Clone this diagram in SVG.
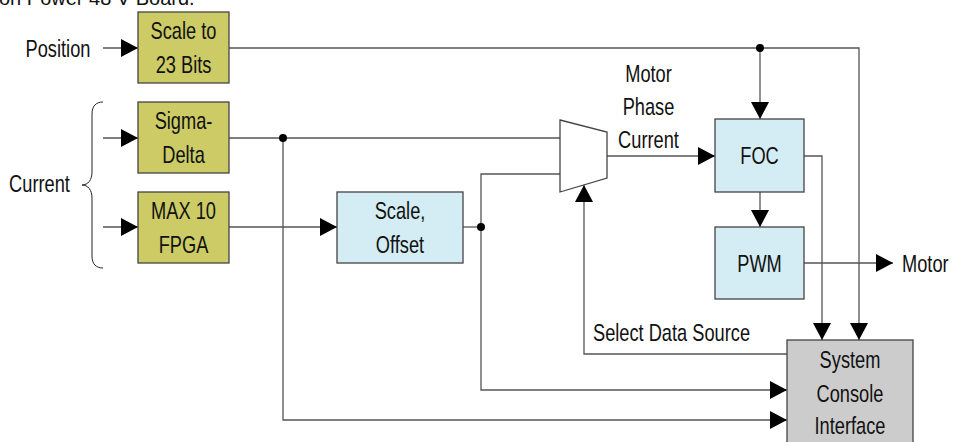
<svg xmlns="http://www.w3.org/2000/svg" width="953" height="442" viewBox="0 0 953 442">
<defs>
<marker id="ah" markerUnits="userSpaceOnUse" markerWidth="18" markerHeight="19" refX="17" refY="9" orient="auto">
<path d="M0,0 L17,9 L0,18 z" fill="#000"/>
</marker>
<style>
.t{font-family:"Liberation Sans",Arial,sans-serif;font-size:24px;fill:#111;}
.m{text-anchor:middle;}
.ol{fill:#cccb66;stroke:#444;stroke-width:1.3;}
.bl{fill:#d4ecf3;stroke:#444;stroke-width:1.3;}
.gr{fill:#cccccc;stroke:#444;stroke-width:1.3;}
.c{fill:none;stroke:#555;stroke-width:1.3;}
.a{marker-end:url(#ah);}
</style>
</defs>
<rect width="953" height="442" fill="#fff"/>
<text x="-1" y="4.7" style="font-family:'Liberation Sans',Arial,sans-serif;font-size:20px;fill:#111">on Power 48 V Board.</text>

<g id="connectors">
<path class="c a" d="M103,48 H138"/>
<path class="c a" d="M103,138 H138"/>
<path class="c a" d="M103,227 H138"/>
<path class="c a" d="M229,48 H859 V340"/>
<path class="c a" d="M760,48 V119"/>
<path class="c" d="M229,138 H560"/>
<path class="c a" d="M283,138 V420 H787"/>
<path class="c a" d="M229,227 H337"/>
<path class="c" d="M463,227 H481"/>
<path class="c a" d="M560,174 H481 V390 H787"/>
<path class="c a" d="M607,156 H715"/>
<path class="c a" d="M787,354 H584 V185"/>
<path class="c a" d="M760,192 V227"/>
<path class="c a" d="M804,156 H822 V340"/>
<path class="c a" d="M804,263 H893"/>
<circle cx="760" cy="48" r="4" fill="#000"/>
<circle cx="283" cy="138" r="4" fill="#000"/>
<circle cx="481" cy="227" r="4" fill="#000"/>
<path d="M103,102 C96,102 92,106 92,114 L92,172 C92,180 88,185 82,185 C88,185 92,190 92,198 L92,256 C92,264 96,268 103,268" fill="none" stroke="#222" stroke-width="1"/>
</g>

<g id="position-label"><text class="t m" transform="translate(58,56.5) scale(.76 1)">Position</text></g>
<g id="current-label"><text class="t m" transform="translate(39.5,191.5) scale(.76 1)">Current</text></g>

<g id="scale23">
<rect class="ol" x="138" y="12" width="91" height="71"/>
<text class="t m" transform="translate(183.5,39.3) scale(.76 1)">Scale to</text>
<text class="t m" transform="translate(183.5,72.7) scale(.76 1)">23 Bits</text>
</g>
<g id="sigma">
<rect class="ol" x="138" y="102" width="91" height="71"/>
<text class="t m" transform="translate(183.5,129.3) scale(.76 1)">Sigma-</text>
<text class="t m" transform="translate(183.5,162.7) scale(.76 1)">Delta</text>
</g>
<g id="max10">
<rect class="ol" x="138" y="192" width="91" height="71"/>
<text class="t m" transform="translate(183.5,219.3) scale(.76 1)">MAX 10</text>
<text class="t m" transform="translate(183.5,252.7) scale(.76 1)">FPGA</text>
</g>
<g id="scaleoffset">
<rect class="bl" x="337" y="192" width="126" height="71"/>
<text class="t m" transform="translate(400,219.3) scale(.76 1)">Scale,</text>
<text class="t m" transform="translate(400,252.7) scale(.76 1)">Offset</text>
</g>
<g id="mux">
<polygon points="560,120 607,132 607,178 560,192" fill="#fff" stroke="#444" stroke-width="1.3"/>
</g>
<g id="mpc-label">
<text class="t m" transform="translate(648.5,81.7) scale(.76 1)">Motor</text>
<text class="t m" transform="translate(648.5,115) scale(.76 1)">Phase</text>
<text class="t m" transform="translate(648.5,148.3) scale(.76 1)">Current</text>
</g>
<g id="foc">
<rect class="bl" x="715" y="119" width="89" height="73"/>
<text class="t m" transform="translate(759.5,164) scale(.76 1)">FOC</text>
</g>
<g id="pwm">
<rect class="bl" x="715" y="227" width="89" height="72"/>
<text class="t m" transform="translate(759.5,271.6) scale(.76 1)">PWM</text>
</g>
<g id="motor-label"><text class="t" transform="translate(902,271.6) scale(.76 1)">Motor</text></g>
<g id="select-label"><text class="t" transform="translate(593,340.5) scale(.76 1)">Select Data Source</text></g>
<g id="console">
<rect class="gr" x="787" y="340" width="126" height="110"/>
<text class="t m" transform="translate(850,368) scale(.76 1)">System</text>
<text class="t m" transform="translate(850,401.5) scale(.76 1)">Console</text>
<text class="t m" transform="translate(850,434) scale(.76 1)">Interface</text>
</g>
</svg>
